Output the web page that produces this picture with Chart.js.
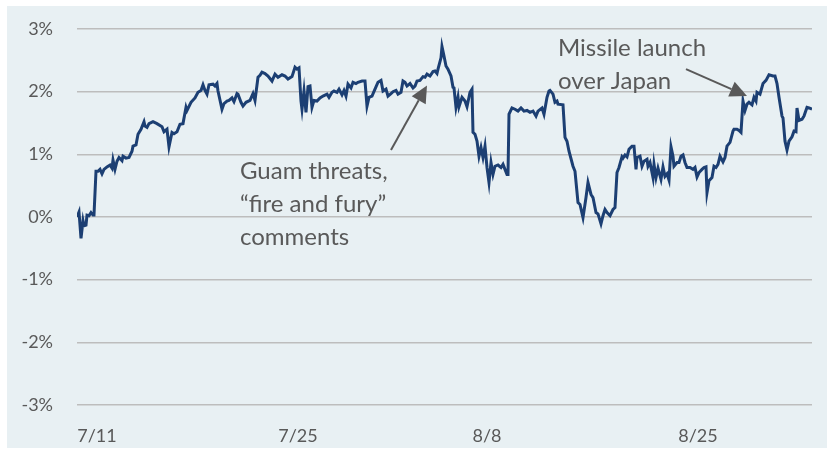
<!DOCTYPE html>
<html>
<head>
<meta charset="utf-8">
<script src="https://cdn.jsdelivr.net/npm/chart.js@4.4.1/dist/chart.umd.min.js"></script>
<style>
  html, body { margin: 0; padding: 0; background: #ffffff; }
  #wrap { position: relative; width: 827px; height: 450px; }
  #panel { position: absolute; left: 7px; top: 6px; width: 820px; height: 442px; background: #e8f0f3; }
  #chart { position: absolute; left: 0; top: 0; }
</style>
</head>
<body>
<div id="wrap"><div id="panel"></div><canvas id="chart" width="827" height="450"></canvas></div>
<script>
// time index of each observation (intraday sessions, 7/10 .. early Sept)
const tradingTime = [
  0, 2, 4, 6, 7, 9, 10, 12, 14, 16, 17, 19, 21, 23, 25, 27, 30, 33, 35, 36,
  38, 40, 42, 45, 46, 49, 52, 55, 56, 59, 61, 64, 67, 68, 70, 72, 76, 80, 85, 87,
  90, 92, 95, 97, 100, 103, 106, 109, 110, 114, 118, 121, 124, 126, 128, 130, 132, 136, 138, 140,
  141, 145, 147, 150, 152, 155, 157, 160, 161, 164, 166, 169, 173, 176, 178, 181, 183, 185, 188, 191,
  195, 198, 201, 205, 208, 211, 215, 218, 220, 222, 224, 225, 227, 229, 231, 233, 235, 237, 240, 243,
  246, 250, 252, 255, 257, 260, 262, 265, 267, 269, 271, 274, 276, 279, 281, 285, 288, 290, 292, 295,
  298, 301, 304, 306, 309, 311, 314, 316, 319, 321, 324, 326, 328, 330, 333, 336, 338, 340, 343, 346,
  348, 350, 353, 356, 358, 360, 361, 364, 365, 367, 369, 371, 374, 376, 377, 379, 381, 382, 385, 388,
  390, 393, 395, 396, 398, 400, 402, 404, 406, 408, 410, 412, 414, 416, 418, 421, 424, 426, 430, 431,
  432, 435, 438, 441, 444, 447, 450, 453, 456, 459, 461, 465, 467, 470, 472, 473, 476, 478, 480, 481,
  486, 488, 490, 492, 496, 498, 501, 503, 506, 509, 511, 514, 516, 519, 521, 524, 526, 528, 530, 533,
  536, 538, 540, 542, 545, 546, 548, 550, 552, 555, 557, 559, 560, 563, 565, 567, 570, 571, 573, 576,
  577, 579, 581, 584, 586, 588, 590, 592, 594, 596, 597, 600, 602, 604, 606, 608, 610, 613, 616, 618,
  620, 622, 625, 627, 629, 630, 632, 635, 637, 639, 641, 643, 646, 648, 650, 653, 656, 657, 660, 662,
  664, 666, 668, 670, 672, 675, 677, 679, 680, 683, 686, 689, 692, 696, 698, 700, 702, 705, 706, 708,
  710, 712, 715, 717, 719, 720, 722, 725, 727, 730, 732, 735
];
// cumulative return, %
const returnPct = [
  0.00, 0.08, -0.34, -0.06, -0.14, -0.13, 0.03, 0.02, 0.07, 0.03, 0.03, 0.73, 0.73, 0.76, 0.69, 0.76, 0.80, 0.83, 0.78, 0.91,
  0.76, 0.89, 0.95, 0.90, 0.97, 0.94, 0.95, 1.05, 1.13, 1.15, 1.32, 1.40, 1.52, 1.45, 1.43, 1.49, 1.52, 1.49, 1.44, 1.36,
  1.40, 1.12, 1.35, 1.33, 1.36, 1.48, 1.49, 1.75, 1.70, 1.83, 1.90, 1.99, 2.02, 2.11, 2.02, 1.96, 2.11, 2.12, 2.09, 2.13,
  2.01, 1.72, 1.81, 1.85, 1.86, 1.90, 1.84, 1.97, 1.96, 1.83, 1.77, 1.83, 1.86, 1.97, 1.86, 2.23, 2.26, 2.31, 2.29, 2.25,
  2.17, 2.28, 2.23, 2.27, 2.25, 2.20, 2.24, 2.39, 2.36, 2.38, 1.85, 1.72, 2.01, 1.67, 2.08, 2.09, 1.75, 1.86, 1.85, 1.90,
  1.93, 1.96, 1.91, 1.99, 2.01, 1.99, 2.04, 1.95, 2.02, 1.93, 2.12, 2.06, 2.15, 2.13, 2.15, 2.17, 2.17, 1.77, 1.91, 1.93,
  2.04, 2.15, 2.18, 2.01, 2.04, 1.93, 1.97, 2.00, 2.02, 1.96, 1.99, 2.17, 2.15, 2.09, 2.13, 2.06, 2.09, 2.17, 2.18, 2.24,
  2.23, 2.28, 2.25, 2.32, 2.33, 2.29, 2.36, 2.54, 2.72, 2.57, 2.41, 2.36, 2.25, 2.07, 2.06, 1.75, 1.91, 1.76, 1.91, 1.85,
  1.76, 1.99, 2.04, 1.35, 1.32, 1.21, 0.97, 1.11, 0.95, 1.13, 0.79, 0.55, 0.87, 0.68, 0.81, 0.83, 0.79, 0.84, 0.68, 0.68,
  1.64, 1.74, 1.72, 1.69, 1.74, 1.69, 1.70, 1.67, 1.69, 1.61, 1.69, 1.74, 1.64, 1.91, 2.01, 2.02, 1.96, 1.83, 1.85, 1.80,
  1.79, 1.27, 1.21, 1.05, 0.81, 0.73, 0.23, 0.20, -0.01, 0.31, 0.55, 0.36, 0.31, 0.07, 0.05, -0.11, 0.02, 0.12, 0.07, 0.02,
  0.12, 0.15, 0.71, 0.79, 0.96, 0.94, 0.99, 0.96, 1.08, 1.13, 1.13, 0.76, 0.95, 0.97, 0.81, 0.89, 0.92, 0.81, 0.87, 0.63,
  0.84, 0.63, 0.78, 0.60, 0.80, 0.65, 0.69, 0.59, 1.12, 0.97, 0.81, 0.87, 0.87, 0.97, 0.99, 0.87, 0.79, 0.79, 0.76, 0.79,
  0.64, 0.71, 0.76, 0.79, 0.80, 0.39, 0.58, 0.63, 0.81, 0.79, 0.84, 0.97, 0.88, 0.95, 1.13, 1.19, 1.37, 1.40, 1.40, 1.38,
  1.35, 1.85, 1.70, 1.80, 1.83, 1.79, 1.91, 1.85, 1.99, 1.96, 2.13, 2.18, 2.27, 2.25, 2.25, 2.13, 1.91, 1.61, 1.58, 1.21,
  1.07, 1.21, 1.28, 1.37, 1.36, 1.74, 1.54, 1.56, 1.61, 1.75, 1.74, 1.72
];
const dateTickTimes = [20, 221, 410, 621];
const dateTickLabels = ['7/11', '7/25', '8/8', '8/25'];

// annotations, anchored on the data axes
const guamLines = ['Guam threats,', '\u201cfire and fury\u201d', 'comments'];
const guamTextAt = [163, 0.735];
const guamArrow = [314, 1.07, 350, 2.10];
const missileLines = ['Missile launch', 'over Japan'];
const missileTextAt = [481, 2.70];
const missileArrow = [609, 2.36, 670, 1.93];

const TEXT = '#595959';

function drawArrow(ctx, x, y, a) {
  const x1 = x.getPixelForValue(a[0]), y1 = y.getPixelForValue(a[1]);
  const x2 = x.getPixelForValue(a[2]), y2 = y.getPixelForValue(a[3]);
  const ang = Math.atan2(y2 - y1, x2 - x1);
  const len = 17, half = 8;
  const bx = x2 - len * Math.cos(ang), by = y2 - len * Math.sin(ang);
  ctx.beginPath();
  ctx.moveTo(x1, y1);
  ctx.lineTo(bx, by);
  ctx.stroke();
  ctx.beginPath();
  ctx.moveTo(x2, y2);
  ctx.lineTo(bx + half * Math.sin(ang), by - half * Math.cos(ang));
  ctx.lineTo(bx - half * Math.sin(ang), by + half * Math.cos(ang));
  ctx.closePath();
  ctx.fill();
}

const notesPlugin = {
  id: 'notes',
  afterDatasetsDraw(chart) {
    const { ctx, scales: { x, y } } = chart;
    ctx.save();
    ctx.fillStyle = TEXT;
    ctx.strokeStyle = TEXT;
    ctx.lineWidth = 2;
    ctx.font = '24px Lato';
    ctx.textAlign = 'left';
    ctx.textBaseline = 'middle';
    guamLines.forEach((s, i) => {
      ctx.fillText(s, x.getPixelForValue(guamTextAt[0]), y.getPixelForValue(guamTextAt[1]) + i * 33);
    });
    missileLines.forEach((s, i) => {
      ctx.fillText(s, x.getPixelForValue(missileTextAt[0]), y.getPixelForValue(missileTextAt[1]) + i * 33);
    });
    drawArrow(ctx, x, y, guamArrow);
    drawArrow(ctx, x, y, missileArrow);
    ctx.restore();
  }
};

new Chart(document.getElementById('chart'), {
  type: 'line',
  data: {
    datasets: [{
      data: tradingTime.map((t, i) => ({ x: t, y: returnPct[i] })),
      borderColor: '#1c3f73',
      borderWidth: 3,
      pointRadius: 0,
      tension: 0,
      fill: false
    }]
  },
  options: {
    responsive: false,
    animation: false,
    devicePixelRatio: 1,
    layout: { padding: { top: 29, right: 15, bottom: 0, left: 0 } },
    plugins: { legend: { display: false }, tooltip: { enabled: false } },
    scales: {
      x: {
        type: 'linear',
        min: 0,
        max: 735,
        grid: { display: false },
        border: { display: false },
        afterBuildTicks: (s) => { s.ticks = dateTickTimes.map(v => ({ value: v })); },
        afterFit: (s) => { s.height = 45; },
        ticks: {
          autoSkip: false,
          maxRotation: 0,
          padding: 12,
          color: TEXT,
          font: { family: 'Lato', size: 18 },
          callback: (v) => dateTickLabels[dateTickTimes.indexOf(v)]
        }
      },
      y: {
        min: -3,
        max: 3,
        border: { display: false },
        grid: { color: '#bdbdbd', lineWidth: 1.5, drawTicks: false },
        afterFit: (s) => { s.width = 77; s.paddingTop = 0; s.paddingBottom = 0; },
        ticks: {
          stepSize: 1,
          padding: 24,
          color: TEXT,
          font: { family: 'Lato', size: 18 },
          callback: (v) => v + '%'
        }
      }
    }
  },
  plugins: [notesPlugin]
});
</script>
</body>
</html>
